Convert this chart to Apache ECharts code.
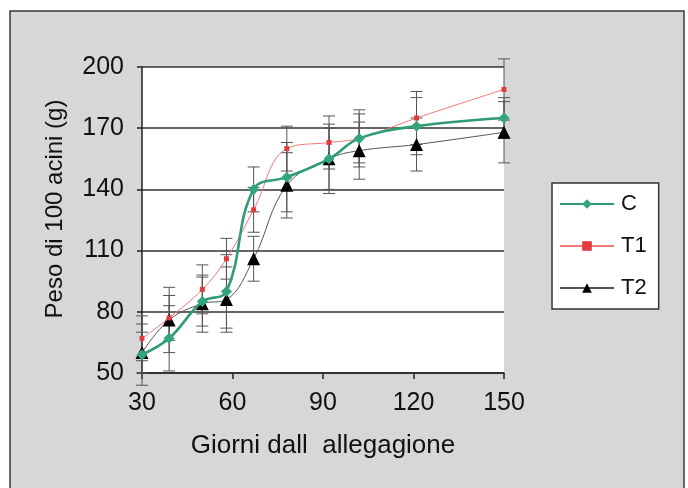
<!DOCTYPE html>
<html>
<head>
<meta charset="utf-8">
<script src="https://cdn.jsdelivr.net/npm/echarts@6/dist/echarts.min.js"></script>
<style>
    html, body { margin: 0; padding: 0; background: #fff; }
    #myChart { width: 688px; height: 488px; }
</style>
</head>
<body>
<div id="myChart"></div>
<script>
    // giorni dall'allegagione
    var days = [30, 39, 50, 58, 67, 78, 92, 102, 121, 150];
    // peso medio di 100 acini (g)
    var valC  = [59, 67, 85, 90, 140, 146, 155, 165, 171, 175];
    var valT1 = [67, 77, 91, 106, 130, 160, 163, 165, 175, 189];
    var valT2 = [60, 76, 84, 86, 106, 142, 155, 159, 162, 168];
    // errori (+/-)
    var errC  = [15, 16, 12, 18, 11, 17, 17, 14, 14, 10];
    var errT1 = [11, 11, 12, 10, 11, 11, 13, 12, 13, 15];
    var errT2 = [10, 16, 14, 16, 11, 16, 15, 14, 13, 15];
    var yTicks = [50, 80, 110, 140, 170, 200];

    function pairs (vals) {
        var out = [];
        for (var i = 0; i < days.length; i++) {
            out.push([days[i], vals[i]]);
        }
        return out;
    }
    function bars (vals, errs) {
        var out = [];
        for (var i = 0; i < days.length; i++) {
            out.push([days[i], vals[i] - errs[i], vals[i] + errs[i]]);
        }
        return out;
    }
    var errData = bars(valC, errC).concat(bars(valT1, errT1), bars(valT2, errT2));

    var font = 'Liberation Sans';
    var myChart = echarts.init(document.getElementById('myChart'));
    myChart.setOption({
        backgroundColor: 'transparent',
        animation: false,
        graphic: [{
            type: 'rect',
            z: -10,
            shape: { x: 10, y: 11, width: 674, height: 500 },
            style: { fill: '#d7d7d7', stroke: '#3a3a3a', lineWidth: 1.5 }
        }],
        grid: {
            left: 142, right: 184, top: 67, bottom: 115,
            show: true,
            backgroundColor: '#fff',
            borderWidth: 0
        },
        legend: {
            orient: 'vertical',
            left: 552, top: 183,
            width: 110,
            padding: [10, 12, 10, 7],
            itemGap: 20,
            itemWidth: 54,
            itemHeight: 12,
            backgroundColor: '#fff',
            borderColor: '#333',
            borderWidth: 1.5,
            borderRadius: 0,
            textStyle: { fontFamily: font, fontSize: 22, color: '#111', padding: [0, 0, 0, 2] },
            data: ['C', 'T1', 'T2']
        },
        xAxis: {
            type: 'value',
            min: 30, max: 150, interval: 30,
            name: 'Giorni dall  allegagione',
            nameLocation: 'middle',
            nameGap: 60,
            nameTextStyle: { fontFamily: font, fontSize: 26, color: '#111' },
            axisLine: { show: true, lineStyle: { color: '#222', width: 1.5 } },
            axisTick: { show: true, length: 6, lineStyle: { color: '#222', width: 1.5 } },
            axisLabel: { fontFamily: font, fontSize: 25, color: '#111', margin: 18 },
            splitLine: { show: false }
        },
        yAxis: {
            type: 'value',
            min: 50, max: 200, interval: 30,
            name: 'Peso di 100 acini (g)',
            nameLocation: 'middle',
            nameGap: 75,
            nameTextStyle: { fontFamily: font, fontSize: 24, color: '#111', padding: [0, 0, 0, 22] },
            axisLine: { show: true, lineStyle: { color: '#222', width: 1.5 } },
            axisTick: { show: true, length: 5, lineStyle: { color: '#222', width: 1.5 } },
            axisLabel: {
                fontFamily: font, fontSize: 25, color: '#111', margin: 18,
                formatter: function (v) { return yTicks.indexOf(v) >= 0 ? String(v) : ''; }
            },
            splitLine: { show: true, lineStyle: { color: '#333', width: 1.5 } }
        },
        series: [{
            type: 'custom',
            name: 'err',
            z: 1,
            silent: true,
            renderItem: function (params, api) {
                var lo = api.coord([api.value(0), api.value(1)]);
                var hi = api.coord([api.value(0), api.value(2)]);
                var w = 6;
                var st = { stroke: '#555', lineWidth: 1 };
                return {
                    type: 'group',
                    children: [
                        { type: 'line', shape: { x1: lo[0], y1: lo[1], x2: hi[0], y2: hi[1] }, style: st },
                        { type: 'line', shape: { x1: lo[0] - w, y1: lo[1], x2: lo[0] + w, y2: lo[1] }, style: st },
                        { type: 'line', shape: { x1: hi[0] - w, y1: hi[1], x2: hi[0] + w, y2: hi[1] }, style: st }
                    ]
                };
            },
            encode: { x: 0, y: [1, 2] },
            data: errData
        }, {
            type: 'line',
            name: 'T2',
            z: 3,
            smooth: 0.4,
            symbol: 'triangle',
            symbolSize: 13,
            itemStyle: { color: '#000' },
            lineStyle: { color: '#555', width: 1 },
            data: pairs(valT2)
        }, {
            type: 'line',
            name: 'T1',
            z: 4,
            smooth: 0.4,
            symbol: 'rect',
            symbolSize: 5,
            itemStyle: { color: '#e23b3b' },
            lineStyle: { color: '#ee7a7a', width: 1 },
            data: pairs(valT1)
        }, {
            type: 'line',
            name: 'C',
            z: 5,
            smooth: 0.4,
            symbol: 'diamond',
            symbolSize: 11,
            itemStyle: { color: '#34a57a' },
            lineStyle: { color: '#2f9c72', width: 2.6 },
            data: pairs(valC)
        }]
    });
</script>
</body>
</html>
